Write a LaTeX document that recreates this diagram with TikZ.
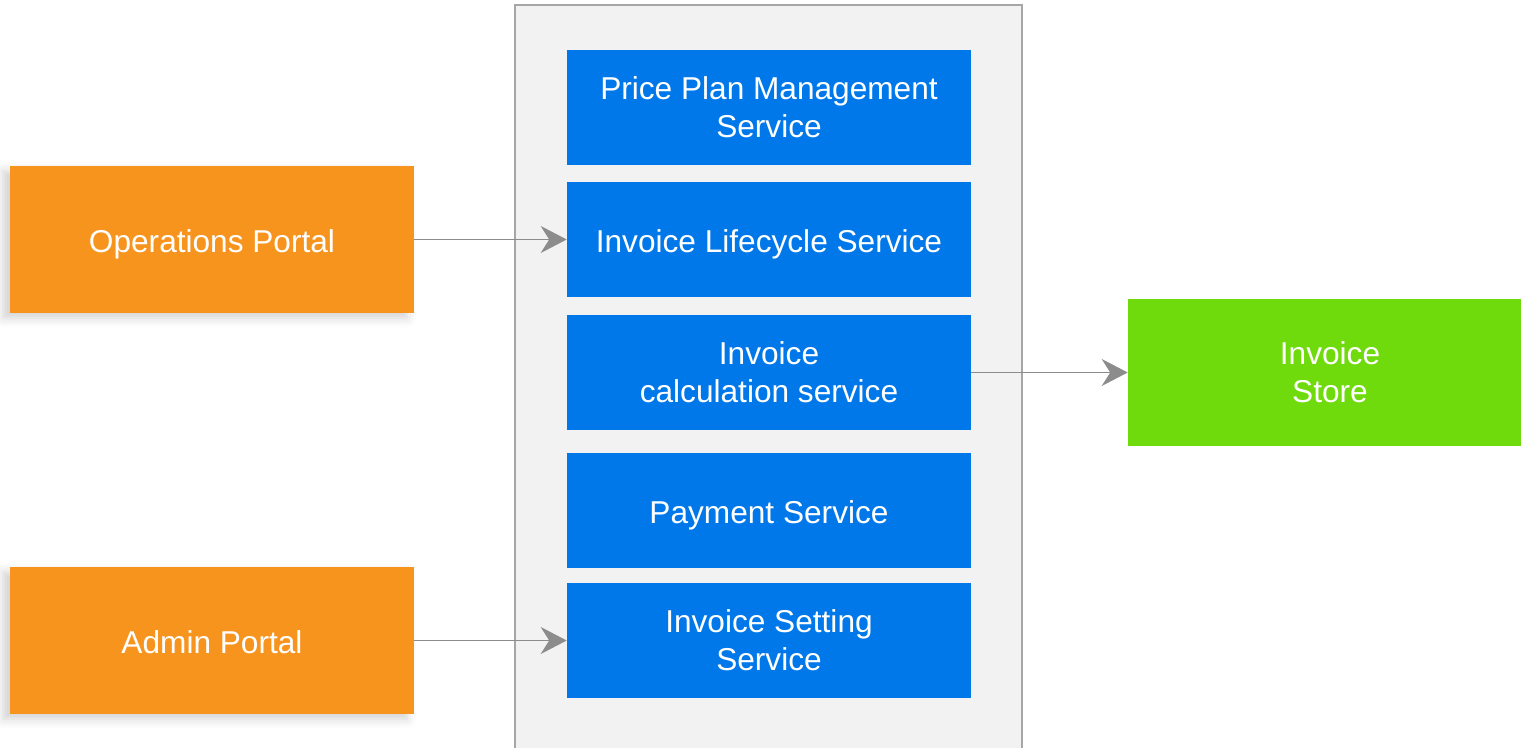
\documentclass[tikz,border=0pt]{standalone}
\usepackage{fontspec}
\setmainfont{Liberation Sans}
\usetikzlibrary{arrows.meta,shadows.blur}
\definecolor{svcblue}{RGB}{0,120,234}
\definecolor{portalorange}{RGB}{247,148,29}
\definecolor{storegreen}{RGB}{112,219,12}
\definecolor{linegray}{RGB}{140,140,140}
\definecolor{boxgray}{RGB}{242,242,242}
\definecolor{edgegray}{RGB}{166,166,166}
\begin{document}
\begin{tikzpicture}[
    x=0.02cm, y=-0.02cm,
    service/.style={fill=svcblue, text=white, minimum width=8.08cm, minimum height=2.3cm, align=center, inner sep=0pt, font=\fontsize{18}{21.5}\selectfont},
    portal/.style={fill=#1, text=white, minimum width=8.08cm, minimum height=2.94cm, align=center, inner sep=0pt, font=\fontsize{18}{21.5}\selectfont},
    oneline/.style={text height=18.5pt, text depth=3.8pt},
    soft/.style={blur shadow={shadow xshift=-0.14cm, shadow yshift=-0.1cm, shadow blur radius=0.18cm, shadow opacity=18}},
    arrow/.style={-{Stealth[length=0.52cm, width=0.54cm, inset=0.17cm]}, linegray, line width=1.1pt}
]
    \useasboundingbox (0,0) rectangle (1521,747);
    \begin{scope}
        \clip (0,0) rectangle (1521,747);
        \draw[fill=boxgray, draw=edgegray, line width=1.6pt] (515,5) rectangle (1022,770);
    \end{scope}

    \node[service] (plan) at (769,107.5) {Price Plan Management\\Service};
    \node[service, oneline] (life) at (769,239.5) {Invoice Lifecycle Service};
    \node[service] (calc) at (769,372.5) {Invoice\\calculation service};
    \node[service, oneline] (pay) at (769,510.5) {Payment Service};
    \node[service] (set) at (769,640.5) {Invoice Setting\\Service};

    \node[portal=portalorange, oneline, soft] (ops) at (212,239.5) {Operations Portal};
    \node[portal=portalorange, oneline, soft] (admin) at (212,640.5) {Admin Portal};
    \node[portal=storegreen] (store) at (1330,372.5) {Invoice\\Store};

    \draw[arrow] (ops) -- (life);
    \draw[arrow] (admin) -- (set);
    \draw[arrow] (calc) -- (store);
\end{tikzpicture}
\end{document}
